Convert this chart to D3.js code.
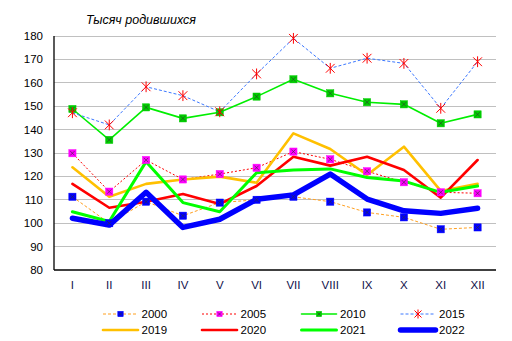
<!DOCTYPE html>
<html>
<head>
<meta charset="utf-8">
<script src="https://cdn.jsdelivr.net/npm/d3@7"></script>
<style>
  html, body { margin: 0; padding: 0; background: #fff; }
  svg { display: block; font-family: "Liberation Sans", Arial, sans-serif; }
</style>
</head>
<body>
<svg id="chart" width="512" height="341"></svg>
<script>
// Months (Roman numerals) and y-axis ticks
const months = ["I","II","III","IV","V","VI","VII","VIII","IX","X","XI","XII"];
const yTicks = [80, 90, 100, 110, 120, 130, 140, 150, 160, 170, 180];
const title = "Тысяч родившихся";

// Monthly births, thousands
const y2000 = [111.3, 100.0, 109.2, 103.2, 108.8, 110.0, 111.3, 109.2, 104.6, 102.5, 97.4, 98.2];
const y2005 = [129.9, 113.5, 127.0, 118.7, 121.0, 123.7, 130.6, 127.3, 122.2, 117.5, 113.2, 112.8];
const y2010 = [148.8, 135.6, 149.5, 144.8, 147.4, 154.1, 161.5, 155.5, 151.7, 150.8, 142.7, 146.5];
const y2015 = [147.2, 142.0, 158.3, 154.5, 147.6, 163.8, 179.0, 166.2, 170.5, 168.3, 149.1, 169.0];
const y2019 = [123.9, 111.3, 116.8, 118.7, 119.9, 117.3, 138.4, 131.7, 120.6, 132.7, 113.8, 116.8];
const y2020 = [116.8, 106.6, 109.2, 112.5, 108.2, 115.9, 128.4, 124.6, 128.4, 122.7, 110.9, 127.0];
const y2021 = [104.9, 100.7, 126.3, 108.8, 104.9, 121.6, 122.7, 123.2, 119.5, 118.0, 113.2, 115.9];
const y2022 = [102.1, 99.2, 113.2, 98.2, 101.7, 110.2, 112.1, 121.0, 110.3, 105.3, 104.2, 106.4];

const series = [
  { name: "2000", values: y2000, color: "#ffa020", width: 1.0, dash: "3,2", marker: "square", mColor: "#0000ff" },
  { name: "2005", values: y2005, color: "#ff0000", width: 1.0, dash: "2,2", marker: "square", mColor: "#ff00ff" },
  { name: "2010", values: y2010, color: "#00ee00", width: 1.6, dash: null,  marker: "square", mColor: "#00cc00" },
  { name: "2015", values: y2015, color: "#3c78ff", width: 1.0, dash: "3,2", marker: "star",   mColor: "#ff0000" },
  { name: "2019", values: y2019, color: "#ffc000", width: 2.6, dash: null,  marker: null },
  { name: "2020", values: y2020, color: "#ff0000", width: 2.6, dash: null,  marker: null },
  { name: "2021", values: y2021, color: "#00ff00", width: 3.0, dash: null,  marker: null },
  { name: "2022", values: y2022, color: "#0000ff", width: 5.5, dash: null,  marker: null }
];

const svg = d3.select("#chart");
const plotLeft = 54, plotRight = 496, plotTop = 36, plotBottom = 270;

const x = d3.scalePoint().domain(months).range([plotLeft, plotRight]).padding(0.5);
const y = d3.scaleLinear().domain([80, 180]).range([plotBottom, plotTop]);

// Title
svg.append("text")
  .attr("x", 141).attr("y", 24)
  .attr("text-anchor", "middle")
  .attr("font-size", 12.5).attr("font-style", "italic")
  .attr("fill", "#000")
  .text(title);

// Horizontal gridlines
svg.append("g").selectAll("line")
  .data(yTicks.filter(d => d > 80))
  .join("line")
  .attr("x1", plotLeft).attr("x2", plotRight)
  .attr("y1", d => y(d)).attr("y2", d => y(d))
  .attr("stroke", "#c0c0c0").attr("stroke-width", 1)
  .attr("shape-rendering", "crispEdges");

// Y tick labels
svg.append("g").selectAll("text")
  .data(yTicks)
  .join("text")
  .attr("x", 43).attr("y", d => y(d))
  .attr("dy", "0.35em")
  .attr("text-anchor", "end")
  .attr("font-size", 11.5)
  .attr("fill", "#000")
  .text(d => d);

// X labels
svg.append("g").selectAll("text")
  .data(months)
  .join("text")
  .attr("x", d => x(d)).attr("y", 289)
  .attr("text-anchor", "middle")
  .attr("font-size", 11.5)
  .attr("fill", "#10104a")
  .text(d => d);

// Axis lines
svg.append("line").attr("x1", plotLeft).attr("x2", plotLeft).attr("y1", plotTop).attr("y2", plotBottom)
  .attr("stroke", "#000").attr("stroke-width", 1.3);
svg.append("line").attr("x1", plotLeft).attr("x2", plotRight).attr("y1", plotBottom).attr("y2", plotBottom)
  .attr("stroke", "#000").attr("stroke-width", 1.3);

const line = d3.line().x((d, i) => x(months[i])).y(d => y(d));

function drawMarker(g, kind, color, cx, cy, s) {
  if (kind === "square") {
    g.append("rect").attr("x", cx - s).attr("y", cy - s).attr("width", 2 * s).attr("height", 2 * s)
      .attr("fill", color).attr("stroke", color).attr("stroke-width", 0.5);
    const c = s * 0.6;
    g.append("path")
      .attr("d", `M${cx - c},${cy - c}L${cx + c},${cy + c}M${cx + c},${cy - c}L${cx - c},${cy + c}`)
      .attr("stroke", "#333").attr("stroke-width", 0.6);
  } else if (kind === "star") {
    const t = s + 0.8;
    g.append("path")
      .attr("d", `M${cx - t},${cy - t}L${cx + t},${cy + t}M${cx + t},${cy - t}L${cx - t},${cy + t}M${cx},${cy - t - 1}L${cx},${cy + t + 1}`)
      .attr("stroke", color).attr("stroke-width", 1.0).attr("fill", "none");
  }
}

// Lines
const linesG = svg.append("g");
series.forEach(s => {
  linesG.append("path")
    .datum(s.values)
    .attr("d", line)
    .attr("fill", "none")
    .attr("stroke", s.color)
    .attr("stroke-width", s.width)
    .attr("stroke-dasharray", s.dash)
    .attr("stroke-linejoin", "round")
    .attr("stroke-linecap", s.dash ? "butt" : "round");
});

// Markers
const markG = svg.append("g");
series.filter(s => s.marker).forEach(s => {
  s.values.forEach((v, i) => drawMarker(markG, s.marker, s.mColor, x(months[i]), y(v), 3.6));
});

// Legend (4 columns x 2 rows)
const legCols = [103, 202, 301.5, 400.5];
const legRows = [314, 330];
const legG = svg.append("g");
series.forEach((s, i) => {
  const lx = legCols[i % 4], ly = legRows[Math.floor(i / 4)];
  legG.append("line")
    .attr("x1", lx).attr("x2", lx + 35).attr("y1", ly).attr("y2", ly)
    .attr("stroke", s.color)
    .attr("stroke-width", s.width)
    .attr("stroke-dasharray", s.dash)
    .attr("stroke-linecap", s.dash ? "butt" : "round");
  if (s.marker) drawMarker(legG, s.marker, s.mColor, lx + 17.5, ly, 2.7);
  legG.append("text")
    .attr("x", lx + 38.5).attr("y", ly).attr("dy", "0.35em")
    .attr("font-size", 11.5).attr("fill", "#000")
    .text(s.name);
});
</script>
</body>
</html>
